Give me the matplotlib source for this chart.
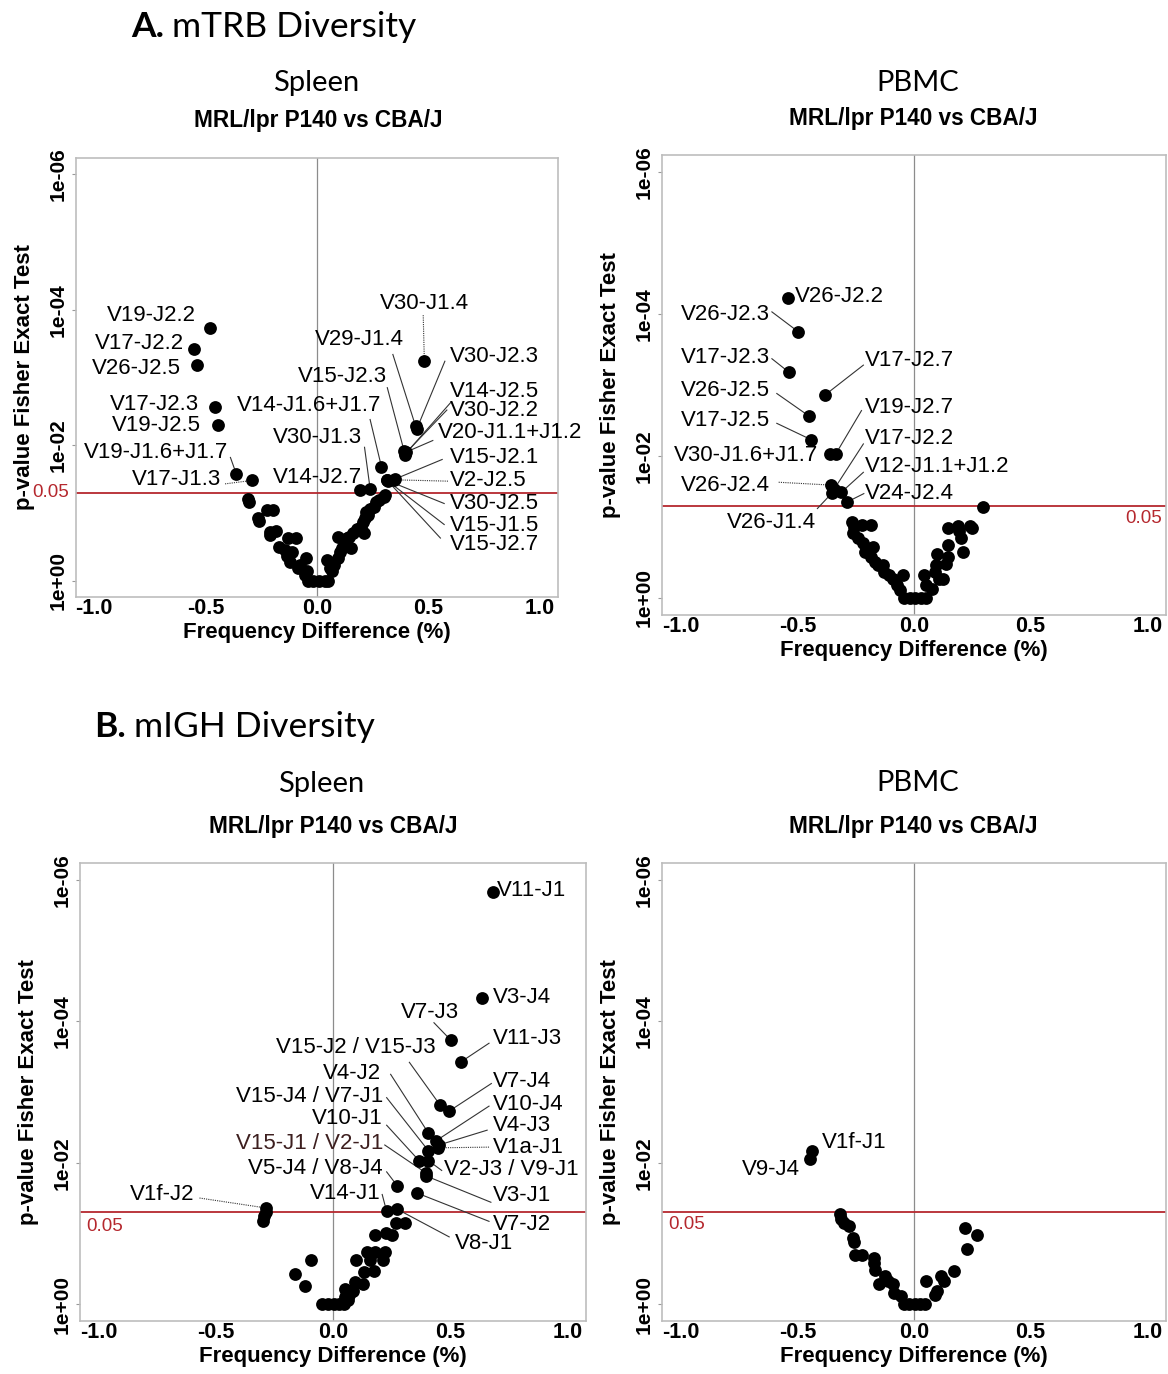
import matplotlib
matplotlib.use("Agg")
import matplotlib.pyplot as plt
import numpy as np

# y values are -log10(p), x values are frequency differences (%)

# A. mTRB diversity - Spleen
a_spl_x = [-0.311, -0.306, -0.264, -0.260, -0.226, -0.196, -0.209, -0.212, -0.182, -0.170,
           -0.145, -0.128, -0.094, -0.136, -0.119, -0.110, -0.077, -0.085, -0.051, -0.046,
           -0.056, -0.040, -0.017, 0.008, 0.034, 0.051,
           0.043, 0.060, 0.068, 0.077, 0.094, 0.102, 0.094, 0.114, 0.119, 0.136,
           0.145, 0.153, 0.162, 0.179, 0.196, 0.209, 0.204, 0.213, 0.221, 0.230,
           0.238, 0.255, 0.264, 0.280, 0.300, 0.306]
a_spl_y = [1.21, 1.16, 0.92, 0.88, 1.04, 1.04, 0.67, 0.72, 0.73, 0.50,
           0.45, 0.63, 0.63, 0.36, 0.28, 0.43, 0.23, 0.19, 0.33, 0.14,
           0.09, 0.0, 0.0, 0.0, 0.0, 0.0,
           0.31, 0.19, 0.14, 0.23, 0.33, 0.43, 0.65, 0.48, 0.53, 0.63,
           0.65, 0.48, 0.70, 0.77, 0.80, 0.70, 0.87, 0.92, 1.02, 0.97,
           1.06, 1.09, 1.16, 1.19, 1.24, 1.26]
a_spl_names = ["V19-J2.2", "V17-J2.2", "V26-J2.5", "V17-J2.3", "V19-J2.5", "V19-J1.6+J1.7",
               "V17-J1.3", "V30-J1.4", "V29-J1.4", "V30-J2.3", "V15-J2.3", "V14-J2.5",
               "V30-J2.2", "V20-J1.1+J1.2", "V14-J1.6+J1.7", "V30-J1.3", "V14-J2.7",
               "V15-J2.1", "V2-J2.5", "V30-J2.5", "V15-J1.5", "V15-J2.7"]
a_spl_sig_x = [-0.481, -0.553, -0.539, -0.459, -0.442, -0.362, -0.293, 0.481, 0.442, 0.447,
               0.390, 0.393, 0.396, 0.400, 0.289, 0.238, 0.192, 0.349, 0.345, 0.315,
               0.318, 0.312]
a_spl_sig_y = [3.73, 3.42, 3.18, 2.56, 2.30, 1.58, 1.48, 3.25, 2.28, 2.24,
               1.92, 1.86, 1.88, 1.90, 1.68, 1.36, 1.34, 1.50, 1.49, 1.48,
               1.47, 1.49]

# A. mTRB diversity - PBMC
a_pbmc_x = [-0.264, -0.256, -0.225, -0.185, -0.261, -0.240, -0.217, -0.209, -0.177, -0.185,
            -0.169, -0.153, -0.133, -0.130, -0.106, -0.090, -0.074, -0.046, -0.058, -0.042,
            -0.019, 0.005, 0.028, 0.052, 0.044, 0.052, 0.076, 0.092, 0.096, 0.107,
            0.123, 0.100, 0.139, 0.144, 0.147, 0.144, 0.187, 0.194, 0.202, 0.210,
            0.242, 0.250, 0.297]
a_pbmc_y = [1.07, 1.00, 1.03, 1.03, 0.91, 0.84, 0.77, 0.65, 0.72, 0.58,
            0.51, 0.46, 0.46, 0.37, 0.32, 0.27, 0.18, 0.32, 0.11, 0.0,
            0.0, 0.0, 0.0, 0.0, 0.32, 0.18, 0.13, 0.37, 0.46, 0.27,
            0.27, 0.62, 0.48, 0.58, 0.74, 0.98, 1.02, 0.95, 0.84, 0.65,
            1.02, 0.98, 1.28]
a_pbmc_names = ["V26-J2.2", "V26-J2.3", "V17-J2.3", "V17-J2.7", "V26-J2.5", "V17-J2.5",
                "V30-J1.6+J1.7", "V19-J2.7", "V26-J2.4", "V17-J2.2", "V26-J1.4",
                "V12-J1.1+J1.2", "V24-J2.4"]
a_pbmc_sig_x = [-0.541, -0.496, -0.536, -0.381, -0.449, -0.441, -0.362, -0.335, -0.356,
                -0.343, -0.351, -0.311, -0.288]
a_pbmc_sig_y = [4.22, 3.75, 3.18, 2.86, 2.56, 2.23, 2.03, 2.03, 1.59, 1.53, 1.48, 1.49, 1.35]

# B. mIGH diversity - Spleen
b_spl_x = [0.270, 0.307, 0.181, 0.226, 0.250, 0.145, 0.181, 0.221, 0.100, 0.157,
           0.213, 0.132, 0.173, 0.092, 0.129, 0.052, 0.068, 0.084, -0.094, -0.162,
           -0.118, -0.045, -0.021, 0.003, 0.027, 0.048, 0.050, 0.062, -0.288, -0.293,
           -0.299]
b_spl_y = [1.15, 1.15, 0.97, 1.01, 0.97, 0.73, 0.73, 0.73, 0.62, 0.62,
           0.62, 0.45, 0.47, 0.31, 0.28, 0.21, 0.13, 0.18, 0.62, 0.43,
           0.26, 0.0, 0.0, 0.0, 0.0, 0.0, 0.10, 0.06, 1.30, 1.24,
           1.17]
b_spl_names = ["V11-J1", "V3-J4", "V7-J3", "V11-J3", "V15-J2 / V15-J3", "V7-J4", "V4-J2",
               "V10-J4", "V4-J3", "V1a-J1", "V15-J4 / V7-J1", "V10-J1", "V2-J3 / V9-J1",
               "V15-J1 / V2-J1", "V3-J1", "V5-J4 / V8-J4", "V7-J2", "V14-J1", "V8-J1",
               "V1f-J2"]
b_spl_sig_x = [0.685, 0.637, 0.504, 0.548, 0.456, 0.496, 0.407, 0.440, 0.452, 0.447,
               0.407, 0.367, 0.407, 0.399, 0.399, 0.275, 0.359, 0.229, 0.275, -0.288]
b_spl_sig_y = [5.83, 4.33, 3.73, 3.43, 2.82, 2.73, 2.42, 2.31, 2.25, 2.21,
               2.17, 2.03, 2.03, 1.85, 1.81, 1.67, 1.57, 1.31, 1.34, 1.36]

# B. mIGH diversity - PBMC
b_pbmc_x = [-0.317, -0.311, -0.302, -0.278, -0.263, -0.259, -0.254, -0.222, -0.171, -0.171,
            -0.168, -0.148, -0.124, -0.111, -0.092, -0.084, -0.056, -0.045, -0.021, 0.003,
            0.027, 0.048, 0.051, 0.090, 0.098, 0.114, 0.127, 0.170, 0.217, 0.225,
            0.270]
b_pbmc_y = [1.28, 1.21, 1.15, 1.10, 0.94, 0.88, 0.70, 0.70, 0.65, 0.58,
            0.48, 0.29, 0.40, 0.33, 0.28, 0.16, 0.11, 0.0, 0.0, 0.0,
            0.0, 0.0, 0.33, 0.13, 0.18, 0.40, 0.33, 0.47, 1.07, 0.78,
            0.97]
b_pbmc_names = ["V1f-J1", "V9-J4"]
b_pbmc_sig_x = [-0.437, -0.444]
b_pbmc_sig_y = [2.16, 2.05]

yticks = [0, 2, 4, 6]
ytick_labels = ["1e+00", "1e-02", "1e-04", "1e-06"]
xticks = [-1.0, -0.5, 0.0, 0.5, 1.0]
cutoff = 0.05

# label placement: text x, text y, alignment, leader start (or None), dotted leader
a_spl_layout = {
    "V19-J2.2": (-0.544, 3.92, "right", None, False),
    "V17-J2.2": (-0.595, 3.50, "right", None, False),
    "V26-J2.5": (-0.609, 3.13, "right", None, False),
    "V17-J2.3": (-0.527, 2.60, "right", None, False),
    "V19-J2.5": (-0.519, 2.29, "right", None, False),
    "V19-J1.6+J1.7": (-0.396, 1.89, "right", (-0.388, 1.82), False),
    "V17-J1.3": (-0.430, 1.49, "right", (-0.412, 1.43), True),
    "V30-J1.4": (0.284, 4.09, "left", (0.476, 3.92), True),
    "V29-J1.4": (0.391, 3.56, "right", (0.340, 3.34), False),
    "V30-J2.3": (0.595, 3.31, "left", (0.573, 3.24), False),
    "V15-J2.3": (0.315, 3.02, "right", (0.315, 2.85), False),
    "V14-J2.5": (0.595, 2.80, "left", (0.599, 2.63), False),
    "V30-J2.2": (0.595, 2.51, "left", (0.582, 2.52), False),
    "V14-J1.6+J1.7": (0.289, 2.58, "right", (0.238, 2.38), False),
    "V20-J1.1+J1.2": (0.544, 2.19, "left", (0.519, 2.07), False),
    "V30-J1.3": (0.204, 2.12, "right", (0.213, 1.97), False),
    "V14-J2.7": (0.204, 1.53, "right", None, False),
    "V15-J2.1": (0.595, 1.82, "left", (0.561, 1.79), False),
    "V2-J2.5": (0.595, 1.48, "left", (0.587, 1.47), True),
    "V30-J2.5": (0.595, 1.14, "left", (0.570, 1.14), False),
    "V15-J1.5": (0.595, 0.82, "left", (0.570, 0.83), False),
    "V15-J2.7": (0.595, 0.53, "left", (0.553, 0.63), False),
}
a_pbmc_layout = {
    "V26-J2.2": (-0.509, 4.25, "left", None, False),
    "V26-J2.3": (-0.617, 4.00, "right", (-0.609, 4.03), False),
    "V17-J2.3": (-0.617, 3.39, "right", (-0.609, 3.37), False),
    "V17-J2.7": (-0.209, 3.35, "left", (-0.217, 3.28), False),
    "V26-J2.5": (-0.617, 2.92, "right", (-0.588, 2.88), False),
    "V17-J2.5": (-0.617, 2.50, "right", (-0.588, 2.46), False),
    "V19-J2.7": (-0.209, 2.69, "left", (-0.225, 2.64), False),
    "V30-J1.6+J1.7": (-0.410, 2.01, "right", None, False),
    "V17-J2.2": (-0.209, 2.24, "left", (-0.217, 2.17), False),
    "V12-J1.1+J1.2": (-0.209, 1.85, "left", (-0.217, 1.77), False),
    "V26-J2.4": (-0.617, 1.59, "right", (-0.580, 1.63), True),
    "V24-J2.4": (-0.209, 1.47, "left", (-0.215, 1.47), False),
    "V26-J1.4": (-0.419, 1.07, "right", (-0.414, 1.26), False),
}
b_spl_layout = {
    "V11-J1": (0.701, 5.85, "left", None, False),
    "V3-J4": (0.682, 4.33, "left", None, False),
    "V7-J3": (0.536, 4.13, "right", (0.431, 3.98), False),
    "V11-J3": (0.682, 3.76, "left", (0.666, 3.69), False),
    "V15-J2 / V15-J3": (0.439, 3.63, "right", (0.326, 3.42), False),
    "V4-J2": (0.205, 3.26, "right", (0.246, 3.25), False),
    "V7-J4": (0.682, 3.15, "left", (0.676, 3.12), False),
    "V15-J4 / V7-J1": (0.213, 2.94, "right", (0.229, 2.92), False),
    "V10-J4": (0.682, 2.83, "left", (0.666, 2.80), False),
    "V10-J1": (0.213, 2.62, "right", (0.229, 2.53), False),
    "V4-J3": (0.682, 2.53, "left", (0.658, 2.46), False),
    "V15-J1 / V2-J1": (0.213, 2.27, "right", (0.221, 2.25), False),
    "V1a-J1": (0.682, 2.22, "left", (0.666, 2.22), True),
    "V2-J3 / V9-J1": (0.472, 1.90, "left", (0.464, 1.89), False),
    "V5-J4 / V8-J4": (0.213, 1.92, "right", (0.229, 1.87), False),
    "V3-J1": (0.682, 1.53, "left", (0.674, 1.44), False),
    "V14-J1": (0.205, 1.57, "right", (0.210, 1.55), False),
    "V7-J2": (0.682, 1.12, "left", (0.666, 1.17), False),
    "V8-J1": (0.520, 0.85, "left", (0.496, 0.95), False),
    "V1f-J2": (-0.591, 1.55, "right", (-0.570, 1.50), True),
}
b_pbmc_layout = {
    "V1f-J1": (-0.394, 2.29, "left", None, False),
    "V9-J4": (-0.489, 1.91, "right", None, False),
}

RED = "#b5282e"
FW, FH = 1168, 1374
LABEL_FONT = "Liberation Sans"
TITLE_FONT = "Lato"


def fx(px):
    return px / FW


def fy(py):
    return 1 - py / FH


def axes_rect(left, top, right, bottom):
    return [fx(left), fy(bottom), (right - left) / FW, (bottom - top) / FH]


def draw_panel(ax, x, y, sig_x, sig_y, names, layout, cut_pos, cut_ha):
    ax.scatter(list(x) + list(sig_x), list(y) + list(sig_y), s=85, color="black",
               linewidths=0, zorder=3)
    ax.axvline(0, color="#8c8c8c", lw=0.9, zorder=1)
    ax.axhline(-np.log10(cutoff), color=RED, lw=1.3, zorder=1)
    ax.text(cut_pos[0], cut_pos[1], str(cutoff), color=RED, ha=cut_ha, va="center",
            fontsize=13.5, family=LABEL_FONT, clip_on=False)

    for name, px, py in zip(names, sig_x, sig_y):
        tx, ty, ha, start, dotted = layout[name]
        color = "#3d1f1f" if name == "V15-J1 / V2-J1" else "black"
        ax.text(tx, ty, name, ha=ha, va="center", fontsize=16, family=LABEL_FONT,
                color=color, clip_on=False, zorder=4)
        if start is not None:
            ax.plot([start[0], px], [start[1], py], color="#333333", lw=0.8,
                    ls=(0, (1, 1)) if dotted else "-", zorder=2)

    ax.set_xlim(-1.08, 1.08)
    ax.set_ylim(-0.24, 6.24)
    ax.set_xticks(xticks)
    ax.set_xticklabels([f"{t:.1f}" for t in xticks], fontsize=15.5, fontweight="bold",
                       family=LABEL_FONT)
    ax.set_yticks(yticks)
    ax.set_yticklabels(ytick_labels, rotation=90, va="center", fontsize=15,
                       fontweight="bold", family=LABEL_FONT)
    ax.tick_params(axis="x", length=0, pad=1)
    ax.tick_params(axis="y", length=3, color="#999999", pad=3)
    for sp in ax.spines.values():
        sp.set_color("#bdbdbd")
        sp.set_linewidth(1.2)
    ax.set_xlabel("Frequency Difference (%)", fontsize=16, fontweight="bold",
                  family=LABEL_FONT, labelpad=2)
    ax.set_ylabel("p-value Fisher Exact Test", fontsize=16, fontweight="bold",
                  family=LABEL_FONT, labelpad=10)


fig = plt.figure(figsize=(FW / 100, FH / 100), dpi=100)

ax1 = fig.add_axes(axes_rect(76, 158, 558, 597))
ax2 = fig.add_axes(axes_rect(662, 155, 1166, 615))
ax3 = fig.add_axes(axes_rect(80, 863, 586, 1321))
ax4 = fig.add_axes(axes_rect(662, 863, 1166, 1321))

draw_panel(ax1, a_spl_x, a_spl_y, a_spl_sig_x, a_spl_sig_y, a_spl_names, a_spl_layout,
           (-1.11, 1.301), "right")
draw_panel(ax2, a_pbmc_x, a_pbmc_y, a_pbmc_sig_x, a_pbmc_sig_y, a_pbmc_names, a_pbmc_layout,
           (1.065, 1.12), "right")
draw_panel(ax3, b_spl_x, b_spl_y, b_spl_sig_x, b_spl_sig_y, b_spl_names, b_spl_layout,
           (-1.055, 1.10), "left")
draw_panel(ax4, b_pbmc_x, b_pbmc_y, b_pbmc_sig_x, b_pbmc_sig_y, b_pbmc_names, b_pbmc_layout,
           (-1.055, 1.12), "left")

# section headings: bold letter then regular text
renderer = fig.canvas.get_renderer()
for letter, rest, left, base in [("A.", "mTRB Diversity", 131, 37),
                                 ("B.", "mIGH Diversity", 94, 737)]:
    t = fig.text(fx(left), fy(base), letter, fontsize=25.5, fontweight="bold",
                 family=TITLE_FONT, va="baseline")
    bb = t.get_window_extent(renderer)
    fig.text((bb.x1 + 8) / fig.bbox.width, fy(base), rest, fontsize=25.5,
             family=TITLE_FONT, va="baseline")

# panel titles
for title, cx, cy in [("Spleen", 316, 83), ("PBMC", 918, 83),
                      ("Spleen", 321, 784), ("PBMC", 918, 783)]:
    fig.text(fx(cx), fy(cy), title, fontsize=21, family=TITLE_FONT, ha="center", va="center")
for cx, cy in [(318, 121), (913, 118), (333, 826), (913, 826)]:
    fig.text(fx(cx), fy(cy), "MRL/lpr P140 vs CBA/J", fontsize=16.3, fontweight="bold",
             family=LABEL_FONT, ha="center", va="center")

fig.savefig("out.png", dpi=100)
